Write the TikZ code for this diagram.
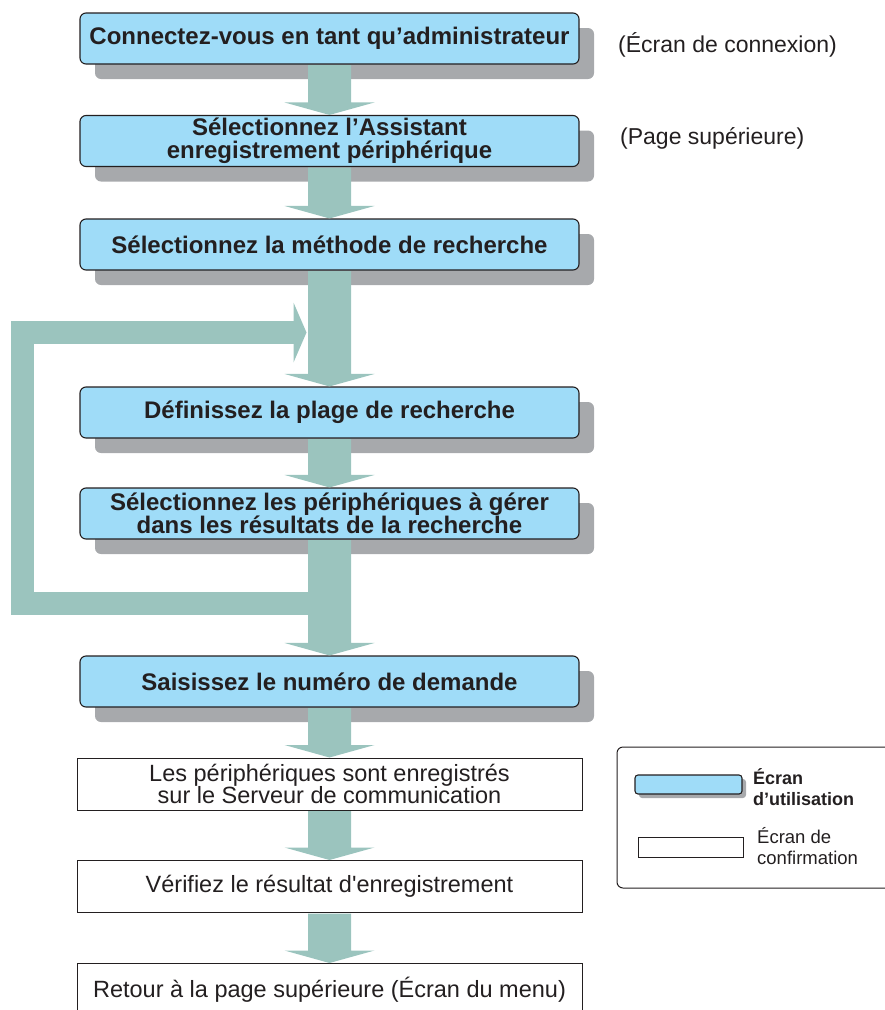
\documentclass[tikz,border=0pt]{standalone}
\usepackage{fontspec}
\setmainfont{Liberation Sans}[Ligatures=TeXOff]
\usetikzlibrary{calc,shadows}
\definecolor{bleu}{HTML}{9FDCF8}
\definecolor{gris}{HTML}{A7A9AC}
\definecolor{vert}{HTML}{9BC4BE}
\definecolor{encre}{HTML}{231F20}
\tikzset{
  cadre/.style={draw=encre, line width=1.1pt, fill=bleu, rounded corners=6pt, inner sep=0pt, text=encre},
  ecran/.style={cadre, minimum width=499pt, minimum height=51pt, align=center,
    font=\bfseries\fontsize{24}{23}\selectfont,
    drop shadow={shadow xshift=15pt, shadow yshift=-15pt, fill=gris, opacity=1}},
  confirm/.style={draw=encre, line width=1pt, fill=white, minimum width=505pt, minimum height=52pt,
    inner sep=0pt, align=center, text=encre, font=\fontsize{23.5}{22.5}\selectfont},
  note/.style={anchor=west, inner sep=0pt, text=encre, font=\fontsize{23}{23}\selectfont},
  legende/.style={anchor=west, inner sep=0pt, align=left, text=encre},
}
\newcommand{\fleche}[2]{%
  \fill[vert] ($(#1.south)+(-21.5,0.6)$) -- ($(#2.north)+(-21.5,-12.5)$) -- ($(#2.north)+(-45,-12.5)$)
    -- (#2.north) -- ($(#2.north)+(45,-12.5)$) -- ($(#2.north)+(21.5,-12.5)$)
    -- ($(#1.south)+(21.5,0.6)$) -- cycle;}
\begin{document}
\begin{tikzpicture}[x=1pt,y=-1pt]  % ------ Enregistrement des peripheriques ------
    \useasboundingbox (0,0) rectangle (885,1010);
    \clip (0,0) rectangle (885,1010);
    \node[ecran] (connexion) at (329.5,38.5) {Connectez-vous en tant qu’administrateur};
    \node[ecran] (assistant) at (329.5,141) {Sélectionnez l’Assistant\\enregistrement périphérique};
    \node[ecran] (methode) at (329.5,244.5) {Sélectionnez la méthode de recherche};
    \node[ecran] (plage) at (329.5,412.5) {Définissez la plage de recherche};
    \node[ecran] (selection) at (329.5,513.5) {Sélectionnez les périphériques à gérer\\dans les résultats de la recherche};
    \node[ecran] (demande) at (329.5,681.5) {Saisissez le numéro de demande};
    \node[confirm] (enregistres) at (329.5,784) {Les périphériques sont enregistrés\\sur le Serveur de communication};
    \node[confirm] (verification) at (329.5,886.5) {Vérifiez le résultat d'enregistrement};
    \node[confirm] (retour) at (329.5,989.5) {Retour à la page supérieure (Écran du menu)};
    \foreach \a/\b in {connexion/assistant, assistant/methode, methode/plage, plage/selection,
      selection/demande, demande/enregistres, enregistres/verification, verification/retour}
      \fleche{\a}{\b};
    % boucle de retour
    \coordinate (depart) at (328,603.5);
    \coordinate (arrivee) at (306.5,332.5);
    \coordinate (gauche) at (22.5,0);
    \draw[vert, line width=23pt] (depart) -- (depart -| gauche) -- (arrivee -| gauche) -- ($(arrivee)+(-13,0)$);
    \fill[vert] ($(arrivee)+(-13,-30)$) -- (arrivee) -- ($(arrivee)+(-13,30)$) -- cycle;
    \node[note] (ecranconnexion) at (618,45) {(Écran de connexion)};
    \node[note] (pagesup) at (620,138) {(Page supérieure)};
    % legende
    \draw[encre, line width=1pt, rounded corners=6pt] (617,747) rectangle (905,888);
    \node[cadre, rounded corners=3pt, minimum width=107pt, minimum height=19pt,
      drop shadow={shadow xshift=4pt, shadow yshift=-4pt, fill=gris, opacity=1}] (echbleu) at (688.5,784.5) {};
    \node[draw=encre, line width=1pt, fill=white, inner sep=0pt, minimum width=105pt, minimum height=20pt] (echblanc) at (690.5,847) {};
    \node[legende, font=\bfseries\fontsize{18}{21}\selectfont] (utilisation) at (753,787) {Écran\\d’utilisation};
    \node[legende, font=\fontsize{18.5}{21}\selectfont] (confirmation) at (757,846) {Écran de\\confirmation};
\end{tikzpicture}
\end{document}
